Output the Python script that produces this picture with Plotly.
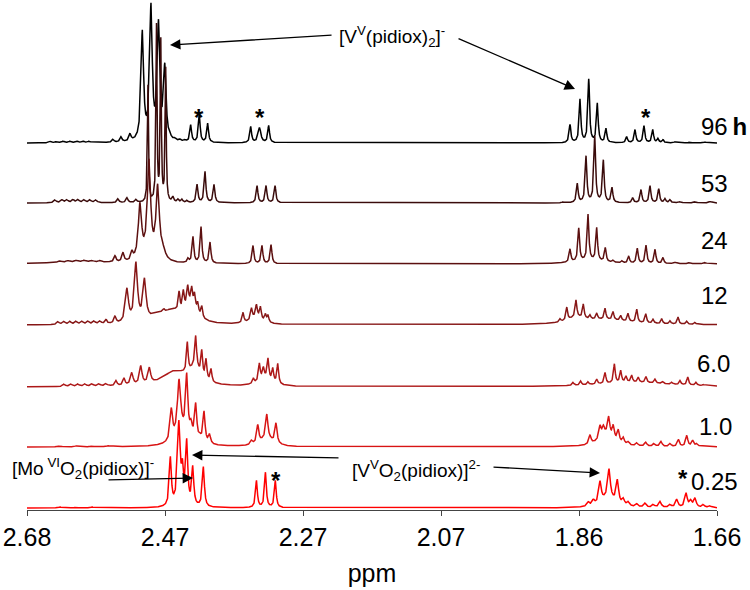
import numpy as np
import plotly.graph_objects as go

# ---------------- axis ----------------
PPM_MIN, PPM_MAX = 1.66, 2.68
TICK_VALS = [2.68, 2.476, 2.272, 2.068, 1.864, 1.66]
TICK_TEXT = ["2.68", "2.47", "2.27", "2.07", "1.86", "1.66"]

# ---------------- spectra (peak lists) ----------------
TIMES = ["96\u2009<b>h</b>", "53", "24", "12", "6.0", "1.0", "0.25"]
OFFSETS = [365, 305, 244, 183, 121, 61, 0]
COLORS = ["#000000", "#3a0b0b", "#5c1010", "#861616", "#ad1818", "#d81414", "#ff0000"]

POS_96 = [2.646, 2.6356, 2.6268, 2.6164, 2.6061, 2.5972, 2.5883,
          2.5529, 2.541, 2.5277,
          2.5095, 2.4967, 2.4856, 2.4763,
          2.4686, 2.4612, 2.4538, 2.4464,
          2.438, 2.4253, 2.4129,
          2.3493, 2.3363, 2.3227,
          1.8773, 1.8625, 1.8496, 1.8369, 1.8241,
          1.7935, 1.7812, 1.7679, 1.755, 1.7472, 1.7398,
          1.7221, 1.6999, 1.6777]
H_96 = [1.5, 1.5, 1.5, 1.5, 1.5, 1.5, 1.5,
        3, 5, 7,
        108, 132, 114, 72,
        2, 2, 2, 2,
        17, 28, 19,
        16, 15, 17,
        18, 43, 63, 39, 14,
        6, 13, 17, 13, 4, 3,
        1, 1, 1]
W_96 = [0.0022, 0.0022, 0.0022, 0.0022, 0.0022, 0.0022, 0.0022,
        0.0018, 0.0018, 0.0018,
        0.0022, 0.0022, 0.0022, 0.0022,
        0.0018, 0.0018, 0.0018, 0.0018,
        0.0015, 0.0015, 0.0015,
        0.0015, 0.0024, 0.0015,
        0.0015, 0.0015, 0.0015, 0.0015, 0.0015,
        0.0015, 0.0015, 0.0015, 0.0015, 0.0015, 0.0015,
        0.0022, 0.0022, 0.0022]

POS_53 = [2.6386, 2.6283, 2.6209, 2.612, 2.6046, 2.5957, 2.5869, 2.578,
          2.5455, 2.5322, 2.5189,
          2.5011, 2.4886, 2.4822, 2.475,
          2.4642, 2.4568, 2.4509, 2.4435,
          2.4286, 2.4168, 2.4035,
          2.3399, 2.3266, 2.3133,
          1.8876, 1.8665, 1.8536, 1.8407, 1.828, 1.8152,
          1.7846, 1.7723, 1.759, 1.7461, 1.7368, 1.7294,
          1.7146, 1.6925, 1.6703]
H_53 = [3, 3, 3, 3, 3, 3, 3, 3,
        4, 5, 3,
        117, 176, 160, 133,
        5, 3, 3, 2,
        18, 31, 18,
        17, 17, 17,
        1, 19, 46, 66, 42, 15,
        5, 13, 17, 14, 4, 3,
        1.5, 1.5, 1.5]
W_53 = [0.0022, 0.0022, 0.0022, 0.0022, 0.0022, 0.0022, 0.0022, 0.0022,
        0.0018, 0.0018, 0.0018,
        0.0009, 0.0009, 0.0009, 0.0009,
        0.0015, 0.0015, 0.0015, 0.0015,
        0.0015, 0.0015, 0.0015,
        0.0015, 0.0015, 0.0015,
        0.0015, 0.0015, 0.0015, 0.0015, 0.0015, 0.0015,
        0.0015, 0.0015, 0.0015, 0.0015, 0.0015, 0.0015,
        0.0022, 0.0022, 0.0022]

POS_24 = [2.6016,
          2.6312, 2.6194, 2.6075, 2.5957, 2.5839, 2.5721,
          2.5499, 2.5381, 2.5248,
          2.513, 2.4997, 2.4868, 2.479,
          2.4419, 2.4346, 2.4227, 2.4094,
          2.3459, 2.3326, 2.3192,
          1.8773, 1.8644, 1.8506, 1.8378, 1.8251, 1.8137,
          1.8004, 1.7905, 1.7778, 1.7649, 1.7516, 1.7398,
          1.7221, 1.6999, 1.6777,
          1.8477]
H_24 = [2,
        1.5, 1.5, 1.5, 1.5, 1.5, 1.5,
        6, 9, 8,
        55, 98, 72, 8,
        4, 26, 36, 21,
        18, 18, 19,
        13, 33, 46, 33, 14, 2,
        2, 7, 15, 18, 14, 6,
        1.5, 1.5, 1.5,
        3]
W_24 = [0.059,
        0.0022, 0.0022, 0.0022, 0.0022, 0.0022, 0.0022,
        0.0018, 0.0018, 0.0018,
        0.003, 0.003, 0.003, 0.0045,
        0.0015, 0.0015, 0.0015, 0.0015,
        0.0015, 0.0015, 0.0015,
        0.0015, 0.0015, 0.0015, 0.0015, 0.0015, 0.0015,
        0.0015, 0.0015, 0.0015, 0.0015, 0.0015, 0.0015,
        0.0022, 0.0022, 0.0022,
        0.03]

POS_12 = [2.6342, 2.6253, 2.6164, 2.6075, 2.5987, 2.5898, 2.581, 2.5721,
          2.5632, 2.5499,
          2.5322, 2.5189, 2.5063,
          2.4863, 2.4656, 2.439, 2.4779,
          2.4552, 2.4489, 2.4424, 2.4365, 2.4323, 2.4276, 2.4217,
          2.3606, 2.3482, 2.3408, 2.3349, 2.3275, 2.3237, 2.3415,
          1.892, 1.8821, 1.8684, 1.8576, 1.8477, 1.8378, 1.8255, 1.8137, 1.8023,
          1.7915, 1.7786, 1.7653, 1.7545, 1.7417, 1.7294, 1.7176, 1.7047, 1.6925,
          1.8255, 1.8684]
H_12 = [3, 3, 3, 3, 3, 3, 3, 3,
        4, 7,
        33, 58, 40,
        8, 10, 18, 3,
        19, 18, 18, 16, 14, 10, 11,
        10, 11, 12, 12, 7, 7, 7,
        3, 13, 17, 14, 4, 6, 11, 8, 5,
        8, 13, 9, 4, 5, 3, 7, 3, 2,
        5, 5]
W_12 = [0.0022, 0.0022, 0.0022, 0.0022, 0.0022, 0.0022, 0.0022, 0.0022,
        0.0018, 0.0018,
        0.0027, 0.0027, 0.0027,
        0.0148, 0.0118, 0.0118, 0.0018,
        0.0015, 0.0015, 0.0015, 0.0015, 0.0015, 0.0015, 0.0015,
        0.0015, 0.0015, 0.0015, 0.0015, 0.0015, 0.0015, 0.0103,
        0.0015, 0.0015, 0.0015, 0.0015, 0.0015, 0.0015, 0.0015, 0.0015, 0.0015,
        0.0015, 0.0015, 0.0015, 0.0015, 0.0015, 0.0015, 0.0015, 0.0015, 0.0015,
        0.044, 0.0148]

POS_6 = [2.6253, 2.6149, 2.6046, 2.5943, 2.5839, 2.5735, 2.5632,
         2.5484, 2.5366,
         2.5251, 2.5118, 2.4991,
         2.4612, 2.4316,
         2.443, 2.4306, 2.4217, 2.4153, 2.4079,
         2.3281,
         2.3454, 2.3365, 2.3306, 2.3237, 2.3167, 2.3093,
         1.7812,
         1.8728, 1.8615, 1.8506, 1.8378, 1.8255, 1.8117, 1.8023, 1.7945, 1.7861,
         1.7763, 1.7649, 1.7516, 1.7402, 1.7269, 1.7146, 1.7032, 1.6909, 1.6806]
H_6 = [2.5, 2.5, 2.5, 2.5, 2.5, 2.5, 2.5,
       5, 7,
       12, 18, 15,
       15, 15,
       30, 30, 25, 20, 13,
       8,
       5, 17, 10, 20, 13, 20,
       4.5,
       3, 4, 3, 5, 11, 19, 12, 6, 7,
       5, 6, 4, 2, 2, 4, 8, 3, 1]
W_6 = [0.0022, 0.0022, 0.0022, 0.0022, 0.0022, 0.0022, 0.0022,
       0.0018, 0.0018,
       0.0022, 0.0022, 0.0022,
       0.0222, 0.0089,
       0.0015, 0.0015, 0.0015, 0.0015, 0.0015,
       0.0118,
       0.0015, 0.0015, 0.0015, 0.0015, 0.0015, 0.0015,
       0.066,
       0.0015, 0.0015, 0.0015, 0.0015, 0.0015, 0.0015, 0.0015, 0.0015, 0.0015,
       0.0015, 0.0015, 0.0015, 0.0015, 0.0015, 0.0015, 0.0015, 0.0015, 0.0015]

POS_1 = [2.6312, 2.6075, 2.5839, 2.5602,
         2.4464,
         2.4666, 2.4552, 2.4439, 2.4375, 2.4306, 2.4242, 2.4183, 2.4102,
         2.3255,
         2.3482, 2.3389, 2.3255, 2.3119,
         1.8241,
         1.8477, 1.8329, 1.828, 1.8201, 1.8133, 1.8059, 1.7985, 1.7911, 1.7786,
         1.7653, 1.753, 1.7427, 1.7294, 1.717, 1.7047, 1.6958, 1.6895]
H_1 = [1, 1, 1, 1,
       12,
       31, 56, 57, 10, 35, 3, 31, 9,
       8,
       4, 18, 24, 20,
       12,
       9, 12, 8, 18, 13, 12, 6, 3, 3,
       4, 3, 5, 3, 7, 11, 6, 3]
W_1 = [0.0022, 0.0022, 0.0022, 0.0022,
       0.0148,
       0.0022, 0.003, 0.0019, 0.0019, 0.0019, 0.0019, 0.0019, 0.0019,
       0.0118,
       0.0019, 0.0019, 0.0019, 0.0019,
       0.0133,
       0.0019, 0.0019, 0.0019, 0.0019, 0.0019, 0.0019, 0.0019, 0.0019, 0.0019,
       0.0019, 0.0019, 0.0019, 0.0019, 0.0019, 0.0019, 0.0019, 0.0019]

POS_025 = [2.6312, 2.6075, 2.5839,
           2.4681, 2.4555, 2.4501, 2.4439, 2.435, 2.4193,
           2.3408, 2.3275, 2.3129,
           1.8211,
           1.8502, 1.8428, 1.8329, 1.8196, 1.8073, 1.7985, 1.7911, 1.7786, 1.7664,
           1.754, 1.7442, 1.7294, 1.7195, 1.7057, 1.6988, 1.6925, 1.6802, 1.6703]
H_025 = [1, 1, 1,
         48, 82, 30, 62, 38, 40,
         27, 35, 27,
         10,
         4, 5, 21, 28, 23, 6, 4, 3, 4,
         3, 6, 3, 8, 14, 6, 9, 3, 2]
W_025 = [0.0022, 0.0022, 0.0022,
         0.0018, 0.0024, 0.0018, 0.0018, 0.0018, 0.0018,
         0.0016, 0.0016, 0.0016,
         0.0118,
         0.0022, 0.0022, 0.0022, 0.0022, 0.0022, 0.0022, 0.0022, 0.0022, 0.0022,
         0.0022, 0.0022, 0.0022, 0.0022, 0.0022, 0.0022, 0.0022, 0.0022, 0.0022]

PEAKS = [(POS_96, H_96, W_96), (POS_53, H_53, W_53), (POS_24, H_24, W_24),
         (POS_12, H_12, W_12), (POS_6, H_6, W_6), (POS_1, H_1, W_1),
         (POS_025, H_025, W_025)]

# label placement (ppm, intensity units)
LABEL_X = [1.6865, 1.6865, 1.6865, 1.6865, 1.6925, 1.6895, 1.7013]
LABEL_Y = [382, 325, 268, 213, 145, 82, 27]

STAR_X = [2.4253, 2.3355, 1.7649, 2.3119, 1.7102]
STAR_Y = [391, 391, 391, 28, 30]

FONT = "Liberation Sans, Arial, Helvetica, sans-serif"

X = np.linspace(PPM_MIN, PPM_MAX, 9000)


def spectrum(pos, hts, wid):
    y = np.zeros_like(X)
    for p, a, g in zip(pos, hts, wid):
        y += a * g * g / ((X - p) ** 2 + g * g)
    return y


fig = go.Figure()
for (pos, hts, wid), off, col in zip(PEAKS, OFFSETS, COLORS):
    fig.add_trace(go.Scatter(x=X, y=spectrum(pos, hts, wid) + off, mode="lines",
                             line=dict(color=col, width=1.5), hoverinfo="skip",
                             showlegend=False))

ann = []
for t, lx, ly in zip(TIMES, LABEL_X, LABEL_Y):
    ann.append(dict(x=lx, y=ly, xref="x", yref="y", text=t, showarrow=False,
                    xanchor="left", yanchor="middle",
                    font=dict(size=24, color="black", family=FONT)))
for sx, sy in zip(STAR_X, STAR_Y):
    ann.append(dict(x=sx, y=sy, xref="x", yref="y", text="<b>*</b>", showarrow=False,
                    xanchor="center", yanchor="middle",
                    font=dict(size=24, color="black", family=FONT)))

ann.append(dict(x=2.2217, y=472, xref="x", yref="y", showarrow=False, xanchor="left",
                yanchor="middle", text="[V<sup>V</sup>(pidiox)<sub>2</sub>]<sup>-</sup>",
                font=dict(size=19, color="black", family=FONT)))
ann.append(dict(x=2.2025, y=38, xref="x", yref="y", showarrow=False, xanchor="left",
                yanchor="middle", text="[V<sup>V</sup>O<sub>2</sub>(pidiox)]<sup>2-</sup>",
                font=dict(size=19, color="black", family=FONT)))
ann.append(dict(x=-0.024, y=40, xref="paper", yref="y", showarrow=False, xanchor="left",
                yanchor="middle", text="[Mo<sup> VI</sup>O<sub>2</sub>(pidiox)]<sup>-</sup>",
                font=dict(size=19, color="black", family=FONT)))

ARROWS = [  # (tip ppm, tip y, tail ppm, tail y)
    (2.4686, 463, 2.2276, 473),
    (1.8699, 419, 2.0443, 470),
    (1.8329, 35, 1.9926, 41),
    (2.4361, 53, 2.2173, 50),
    (2.4346, 30, 2.5617, 28),
]
for tx, ty, sx, sy in ARROWS:
    ann.append(dict(x=tx, y=ty, ax=sx, ay=sy, xref="x", yref="y", axref="x", ayref="y",
                    text="", showarrow=True, arrowhead=2, arrowsize=1.6, arrowwidth=1.3,
                    arrowcolor="black", standoff=0, startstandoff=0))

fig.update_layout(
    width=750, height=590,
    margin=dict(l=27, r=33, t=0, b=80),
    paper_bgcolor="white", plot_bgcolor="white",
    annotations=ann,
    xaxis=dict(range=[PPM_MAX, PPM_MIN], tickvals=TICK_VALS, ticktext=TICK_TEXT,
               showline=True, linecolor="#444", linewidth=1, ticks="outside",
               ticklen=5, tickcolor="#444", showgrid=False, zeroline=False,
               tickfont=dict(size=25, color="black", family=FONT),
               title=dict(text="ppm", font=dict(size=25, color="black", family=FONT),
                          standoff=14)),
    yaxis=dict(range=[-2, 508], visible=False, showgrid=False, zeroline=False),
)

fig.write_html("out.html")
